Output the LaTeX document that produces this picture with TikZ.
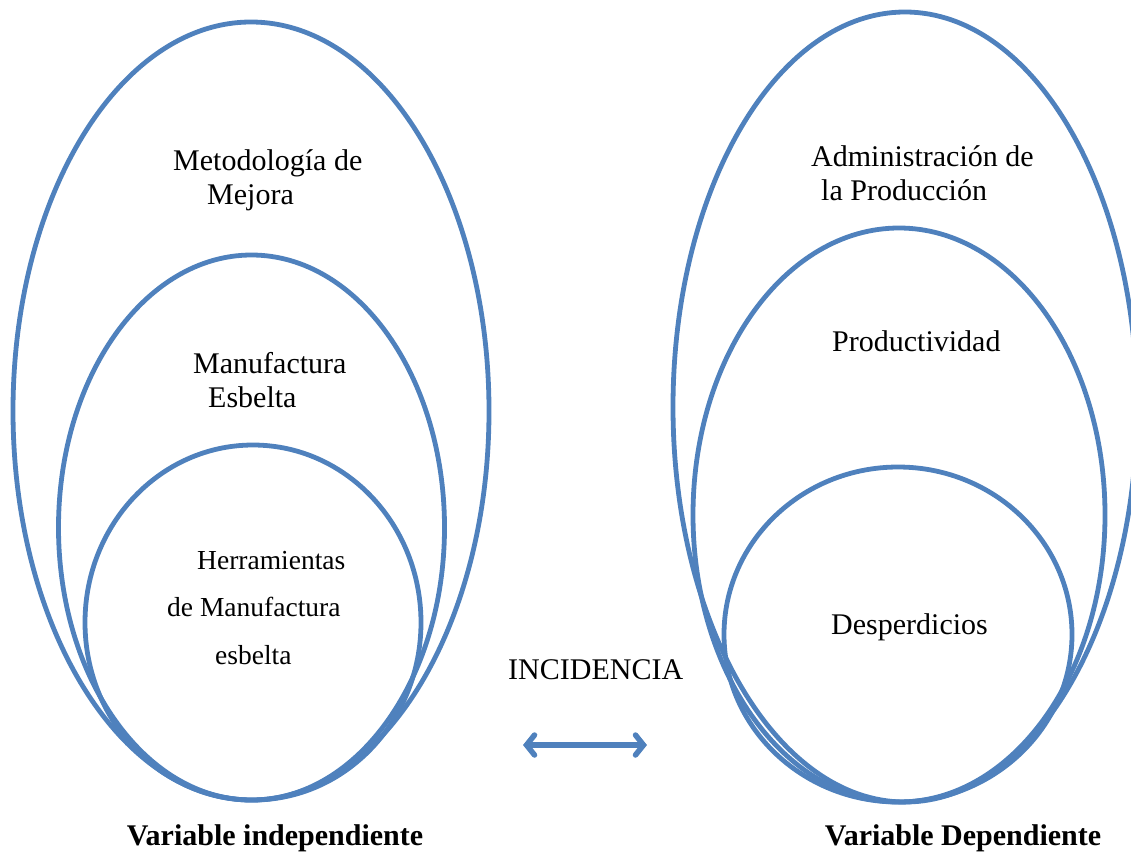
\documentclass[tikz,border=0pt]{standalone}
\usepackage{fontspec}
\setmainfont{Liberation Serif}
\usetikzlibrary{arrows.meta}
\definecolor{ringblue}{RGB}{79,129,189}
\begin{document}
\begin{tikzpicture}[x=1pt,y=-1pt,
  ring/.style={draw=ringblue,line width=4.8pt},
  lbl/.style={inner sep=0pt,anchor=west,font=\fontsize{30}{34}\selectfont},
  lbls/.style={inner sep=0pt,anchor=west,font=\fontsize{27.5}{32}\selectfont},
  captxt/.style={inner sep=0pt,font=\fontsize{30}{34}\selectfont\bfseries}]
\useasboundingbox (0,0) rectangle (1131,855);
% left ellipses
\draw[ring] (251,411) ellipse [x radius=238, y radius=389];
\draw[ring] (251.5,527.5) ellipse [x radius=193, y radius=272.5];
\draw[ring] (253,622.5) ellipse [x radius=168, y radius=177.5];
% right ellipses
\draw[ring] (905,407) ellipse [x radius=232, y radius=395];
\draw[ring] (899,515) ellipse [x radius=206, y radius=287];
\draw[ring] (898,634.5) ellipse [x radius=174, y radius=167.5];
% texts left
\node[lbl] (m1) at (173,163) {Metodología de};
\node[lbl] (m2) at (207,198) {Mejora};
\node[lbl] (e1) at (193,363) {Manufactura};
\node[lbl] (e2) at (208,397) {Esbelta};
\node[lbls] (h1) at (197,561) {Herramientas};
\node[lbls] (h2) at (167,607) {de Manufactura};
\node[lbls] (h3) at (215,655) {esbelta};
% texts right
\node[lbl] (a1) at (811,156) {Administración de};
\node[lbl] (a2) at (821,190) {la Producción};
\node[lbl] (p1) at (832,341) {Productividad};
\node[lbl] (d1) at (831,627) {Desperdicios};
% middle
\node[lbl] (inc) at (508,670) {INCIDENCIA};
\coordinate (aL) at (523,745);
\coordinate (aR) at (647,745);
\draw[draw=ringblue,line width=5.5pt,line cap=round,
  {Straight Barb[length=8pt,width=20pt,line cap=round]}-{Straight Barb[length=8pt,width=20pt,line cap=round]}] (aL) -- (aR);
% captions
\node[captxt] (vi) at (275,838) {Variable independiente};
\node[captxt] (vd) at (963,838) {Variable Dependiente};
\end{tikzpicture}
\end{document}
